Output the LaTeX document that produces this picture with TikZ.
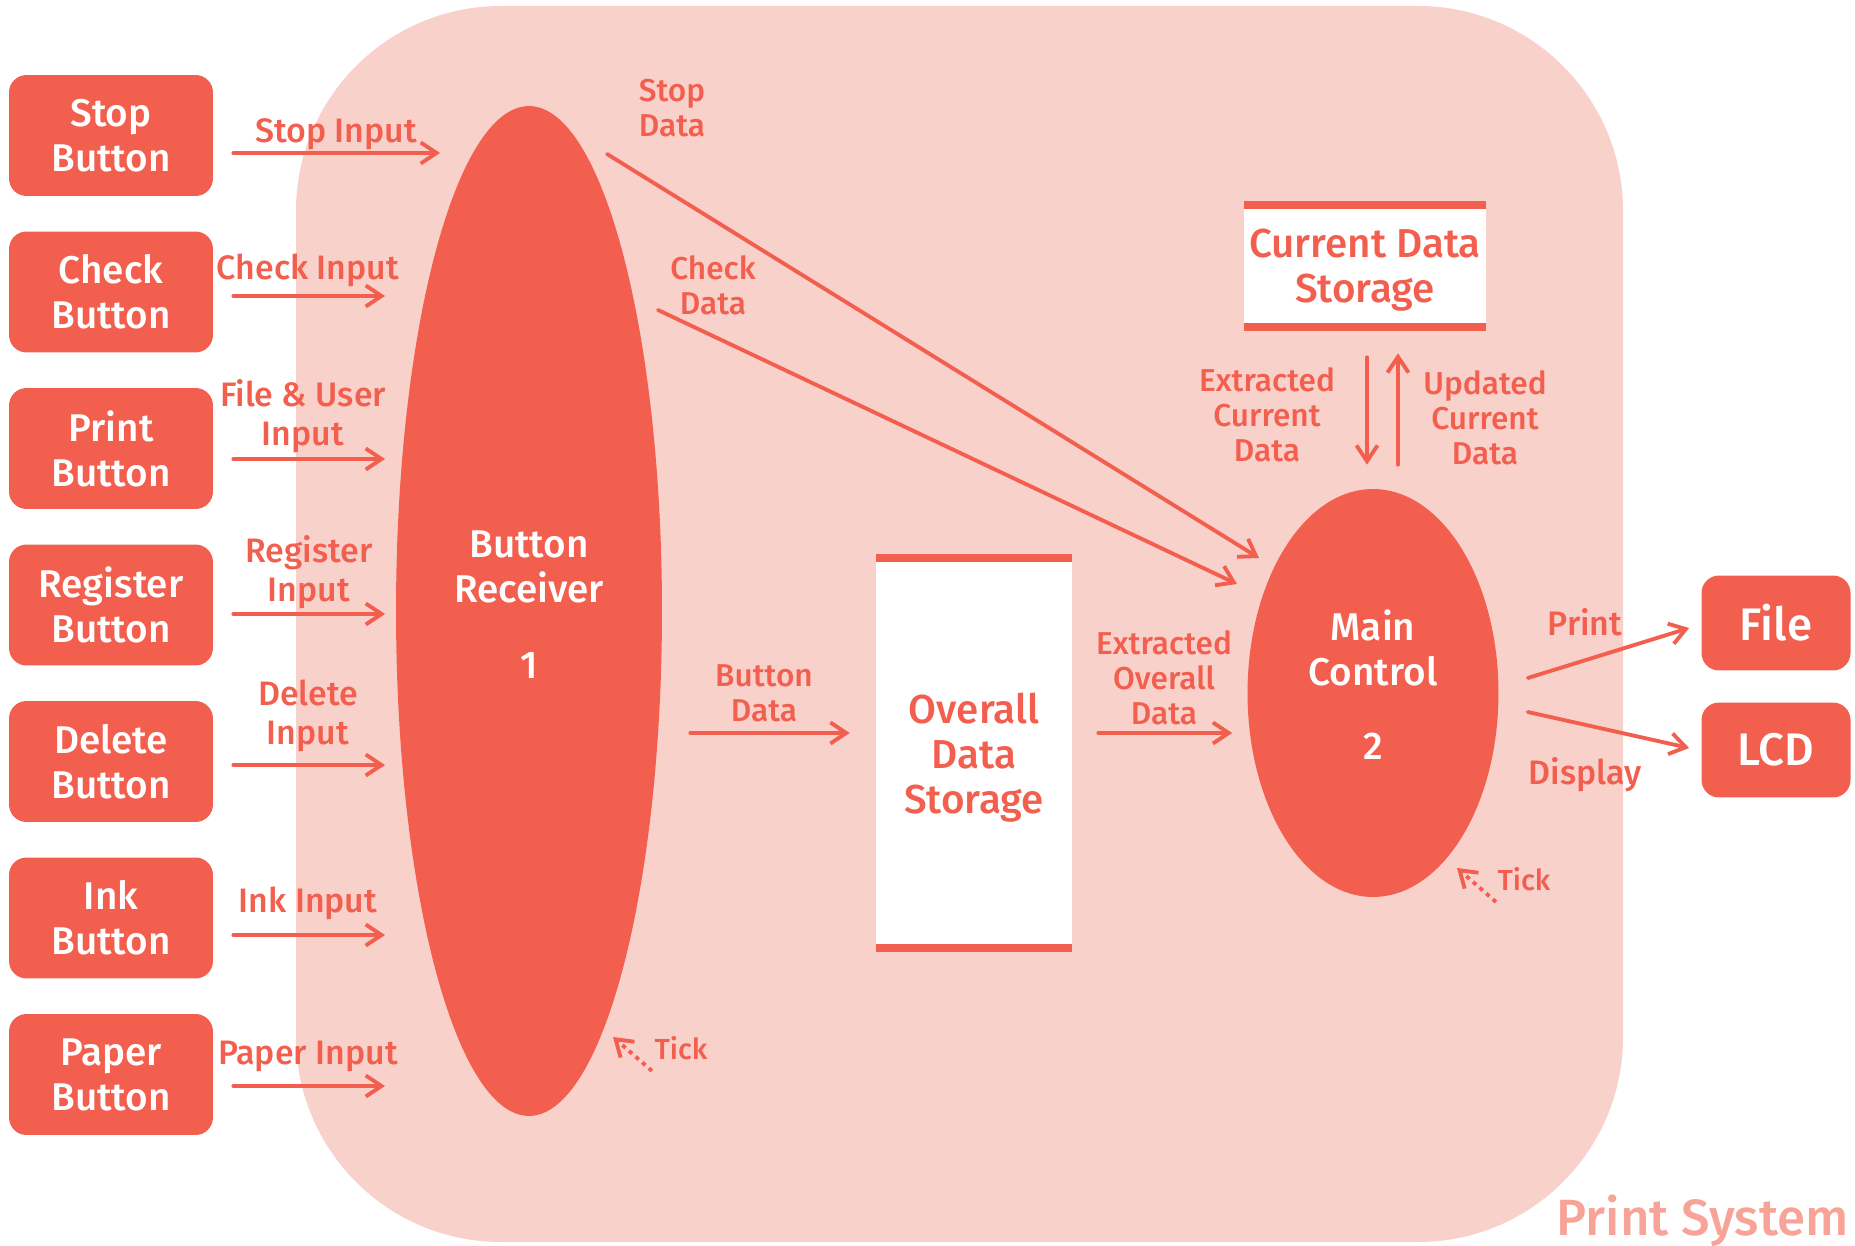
\documentclass[tikz,border=0pt]{standalone}
\usepackage{fontspec}
\setmainfont{Fira Sans}[UprightFont=* Medium]
\usetikzlibrary{positioning,shapes.geometric,arrows.meta}

\definecolor{psred}{HTML}{F35F4E}
\definecolor{pspink}{HTML}{F9D1CB}
\definecolor{pslight}{HTML}{F8A397}

\begin{document}
\begin{tikzpicture}[x=0.02cm,y=-0.02cm,
    >={Straight Barb[length=9pt,width=12pt]},
    flow/.style={->,draw=psred,line width=2.2pt,line cap=round,line join=round},
    tickflow/.style={flow,line cap=butt,dash pattern=on 2.4pt off 2.6pt},
    bigtext/.style={font=\fontsize{22}{25.6}\selectfont,align=center},
    button/.style={bigtext,fill=psred,text=white,rounded corners=0.35cm,
      minimum width=4.08cm,minimum height=2.42cm},
    sink/.style={fill=psred,text=white,rounded corners=0.35cm,
      minimum width=2.98cm,minimum height=1.9cm,font=\fontsize{26}{30}\selectfont},
    process/.style={bigtext,ellipse,fill=psred,text=white,inner sep=0pt},
    store/.style={bigtext,font=\fontsize{23}{25.6}\selectfont,fill=white,text=psred,inner sep=0pt},
    bar/.style={draw=psred,line width=4.5pt},
    lbl/.style={text=psred,align=center,inner sep=0pt,font=\fontsize{19.3}{22}\selectfont},
    lblb/.style={lbl,font=\fontsize{18}{20}\selectfont},
    lblt/.style={lbl,font=\fontsize{16.5}{20}\selectfont}]
  \useasboundingbox (0,0) rectangle (1855,1246);

  % system boundary
  \fill[pspink,rounded corners=4.1cm] (296,6) rectangle (1623,1242);
  \node[anchor=base east,inner sep=0pt,text=pslight,font=\fontsize{29}{32}\selectfont]
    (sysname) at (1849,1235) {Print System};

  % buttons
  \foreach \name/\txt [count=\i from 0] in {stop/Stop,check/Check,print/Print,
      register/Register,delete/Delete,ink/Ink,paper/Paper}
    \node[button] (\name) at (111,135.5+156.5*\i) {\txt\\Button};

  % processes
  \node[process,minimum width=5.32cm,minimum height=20.2cm,text depth=0.24cm] (recv)
    at (529,611) {Button\\Receiver\\[0.62cm]1};
  \node[process,minimum width=5.02cm,minimum height=8.16cm,text depth=0.32cm] (main)
    at (1373,693) {Main\\Control\\[0.58cm]2};

  % stores
  \node[store,minimum width=3.92cm,minimum height=7.8cm,text height=2.6cm] (overall)
    at (974,753) {Overall\\Data\\Storage};
  \node[store,minimum width=4.84cm,minimum height=2.44cm,text height=1.64cm] (current)
    at (1365,266) {Current Data\\Storage};
  \foreach \s in {overall,current}
    \draw[bar] (\s.north west) -- (\s.north east) (\s.south west) -- (\s.south east);

  % outputs
  \node[sink] (file) at (1776,623) {File};
  \node[sink] (lcd) at (1776,750) {LCD};

  % button inputs
  \foreach \src/\y/\x/\lx/\ly/\txt in {stop/153/440/336/134/{Stop Input},
      check/296/385/308/270/{Check Input},
      print/459/385/303/416/{File \& User\\Input},
      register/614/385/309/572/{Register\\Input},
      delete/765/385/308/716/{Delete\\Input},
      ink/935/385/308/903/{Ink Input},
      paper/1086/385/308/1056/{Paper Input}}
  {
    \draw[flow] (\src.east |- 0,\y) ++(20,0) -- (\x,\y);
    \node[lbl] at (\lx,\ly) {\txt};
  }

  % data flows
  \draw[flow] ([shift={(78,-457)}]recv.center) -- ([shift={(-114,-135)}]main.center);
  \node[lblb] at (672,108) {Stop\\Data};
  \draw[flow] ([shift={(129,-301)}]recv.center) -- ([shift={(-136,-109)}]main.center);
  \node[lblb] at (713,285) {Check\\Data};
  \draw[flow] ([shift={(28,122)}]recv.east) -- ([shift={(-26,-20)}]overall.west);
  \node[lblb] at (764,693) {Button\\Data};
  \draw[flow] ([shift={(26,-20)}]overall.east) -- ([shift={(-15,40)}]main.west);
  \node[lblb] at (1164,678) {Extracted\\Overall\\Data};
  \draw[flow] ([shift={(2,30)}]current.south) -- ([shift={(-6,-24)}]main.north);
  \node[lblb] at (1267,415) {Extracted\\Current\\Data};
  \draw[flow] ([shift={(25,-24)}]main.north) -- ([shift={(33,26)}]current.south);
  \node[lblb] at (1485,418) {Updated\\Current\\Data};
  \draw[flow] ([shift={(29,-15)}]main.east) -- ([shift={(-12,5)}]file.west);
  \node[lbl] at (1585,622) {Print};
  \draw[flow] ([shift={(29,19)}]main.east) -- ([shift={(-12,-2)}]lcd.west);
  \node[lbl] at (1585,775) {Display};

  % ticks
  \draw[tickflow] ([shift={(123,460)}]recv.center) -- ++(-39,-34);
  \node[lblt] at (681,1048) {Tick};
  \draw[tickflow] ([shift={(123,209)}]main.center) -- ++(-39,-34);
  \node[lblt] at (1524,879) {Tick};
\end{tikzpicture}
\end{document}
